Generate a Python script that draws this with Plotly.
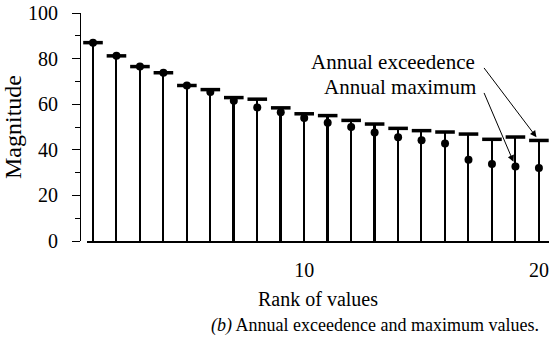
import plotly.graph_objects as go

ranks = list(range(1, 21))
exceedence = [87, 81.2, 76.5, 73.8, 68.2, 66.4, 62.9, 62.2, 58.4, 55.8,
              55.0, 52.9, 51.3, 49.4, 48.4, 47.8, 46.9, 44.6, 45.6, 44.1]
maximum = [87, 81.2, 76.5, 73.8, 68.2, 65.4, 61.5, 58.6, 56.5, 54.0,
           51.9, 50.0, 47.6, 45.5, 44.2, 42.8, 35.6, 33.8, 32.7, 32.0]
x_tick_vals = [10, 20]
y_tick_vals = [0, 20, 40, 60, 80, 100]

FONT = "Liberation Serif"

fig = go.Figure()
fig.add_trace(go.Bar(x=ranks, y=exceedence, width=0.075, marker_color="black",
                     marker_line_width=0, showlegend=False))
fig.add_trace(go.Scatter(x=ranks, y=exceedence, mode="markers",
                         marker=dict(symbol="line-ew", size=14, line=dict(width=3.5, color="black")),
                         cliponaxis=False, showlegend=False))
fig.add_trace(go.Scatter(x=ranks, y=maximum, mode="markers",
                         marker=dict(symbol="circle", size=8, color="black"),
                         cliponaxis=False, showlegend=False))

fig.update_layout(
    width=550, height=343,
    margin=dict(l=80, r=1, t=13, b=102),
    paper_bgcolor="white", plot_bgcolor="white",
    font=dict(family=FONT, color="black", size=20),
    bargap=0,
    xaxis=dict(domain=[0.0149, 1], range=[0.744, 20.43], showgrid=False, zeroline=False,
               automargin=False,
               showline=True, linecolor="black", linewidth=1.5,
               tickmode="array", tickvals=x_tick_vals, ticktext=[str(v) for v in x_tick_vals],
               ticks="", tickfont=dict(size=20),
               minor=dict(tickmode="linear", tick0=1, dtick=1, ticks="inside", ticklen=6,
                          tickcolor="black", tickwidth=1),
               ticklabelstandoff=10,
               title=dict(text="Rank of values", font=dict(size=20), standoff=12)),
    yaxis=dict(anchor="free", position=0, range=[0, 100], showgrid=False, zeroline=False,
               automargin=False,
               showline=True, linecolor="black", linewidth=1.2,
               tickmode="array", tickvals=y_tick_vals, ticks="outside", ticklen=8,
               tickcolor="black", tickwidth=1, tickfont=dict(size=20),
               minor=dict(tickmode="linear", tick0=0, dtick=10, ticks="outside", ticklen=5,
                          tickcolor="black", tickwidth=1),
               ticklabelstandoff=10,
               title=dict(text="Magnitude", font=dict(size=24), standoff=9)),
)

fig.add_annotation(x=17.36, y=78.5, xref="x", yref="y", text="Annual exceedence",
                   showarrow=False, xanchor="right", yanchor="middle", font=dict(size=21))
fig.add_annotation(x=17.40, y=67.5, xref="x", yref="y", text="Annual maximum",
                   showarrow=False, xanchor="right", yanchor="middle", font=dict(size=21))
fig.add_annotation(x=ranks[19], y=exceedence[19], xref="x", yref="y", text="",
                   showarrow=True, ax=-56, ay=-74, arrowhead=2, arrowsize=1.3,
                   arrowwidth=1, arrowcolor="black", standoff=4)
fig.add_annotation(x=ranks[18], y=maximum[18], xref="x", yref="y", text="",
                   showarrow=True, ax=-32, ay=-75, arrowhead=2, arrowsize=1.3,
                   arrowwidth=1, arrowcolor="black", standoff=5)
fig.add_annotation(text="<i>(b)</i> Annual exceedence and maximum values.",
                   showarrow=False, font=dict(size=18),
                   xref="paper", yref="paper",
                   x=(375 - 80) / 469, y=(343 - 102 - 325) / 228,
                   xanchor="center", yanchor="middle")

fig.write_html("out.html", config={"displayModeBar": False},
               post_script="document.body.style.margin='0';document.body.style.overflow='hidden';")
